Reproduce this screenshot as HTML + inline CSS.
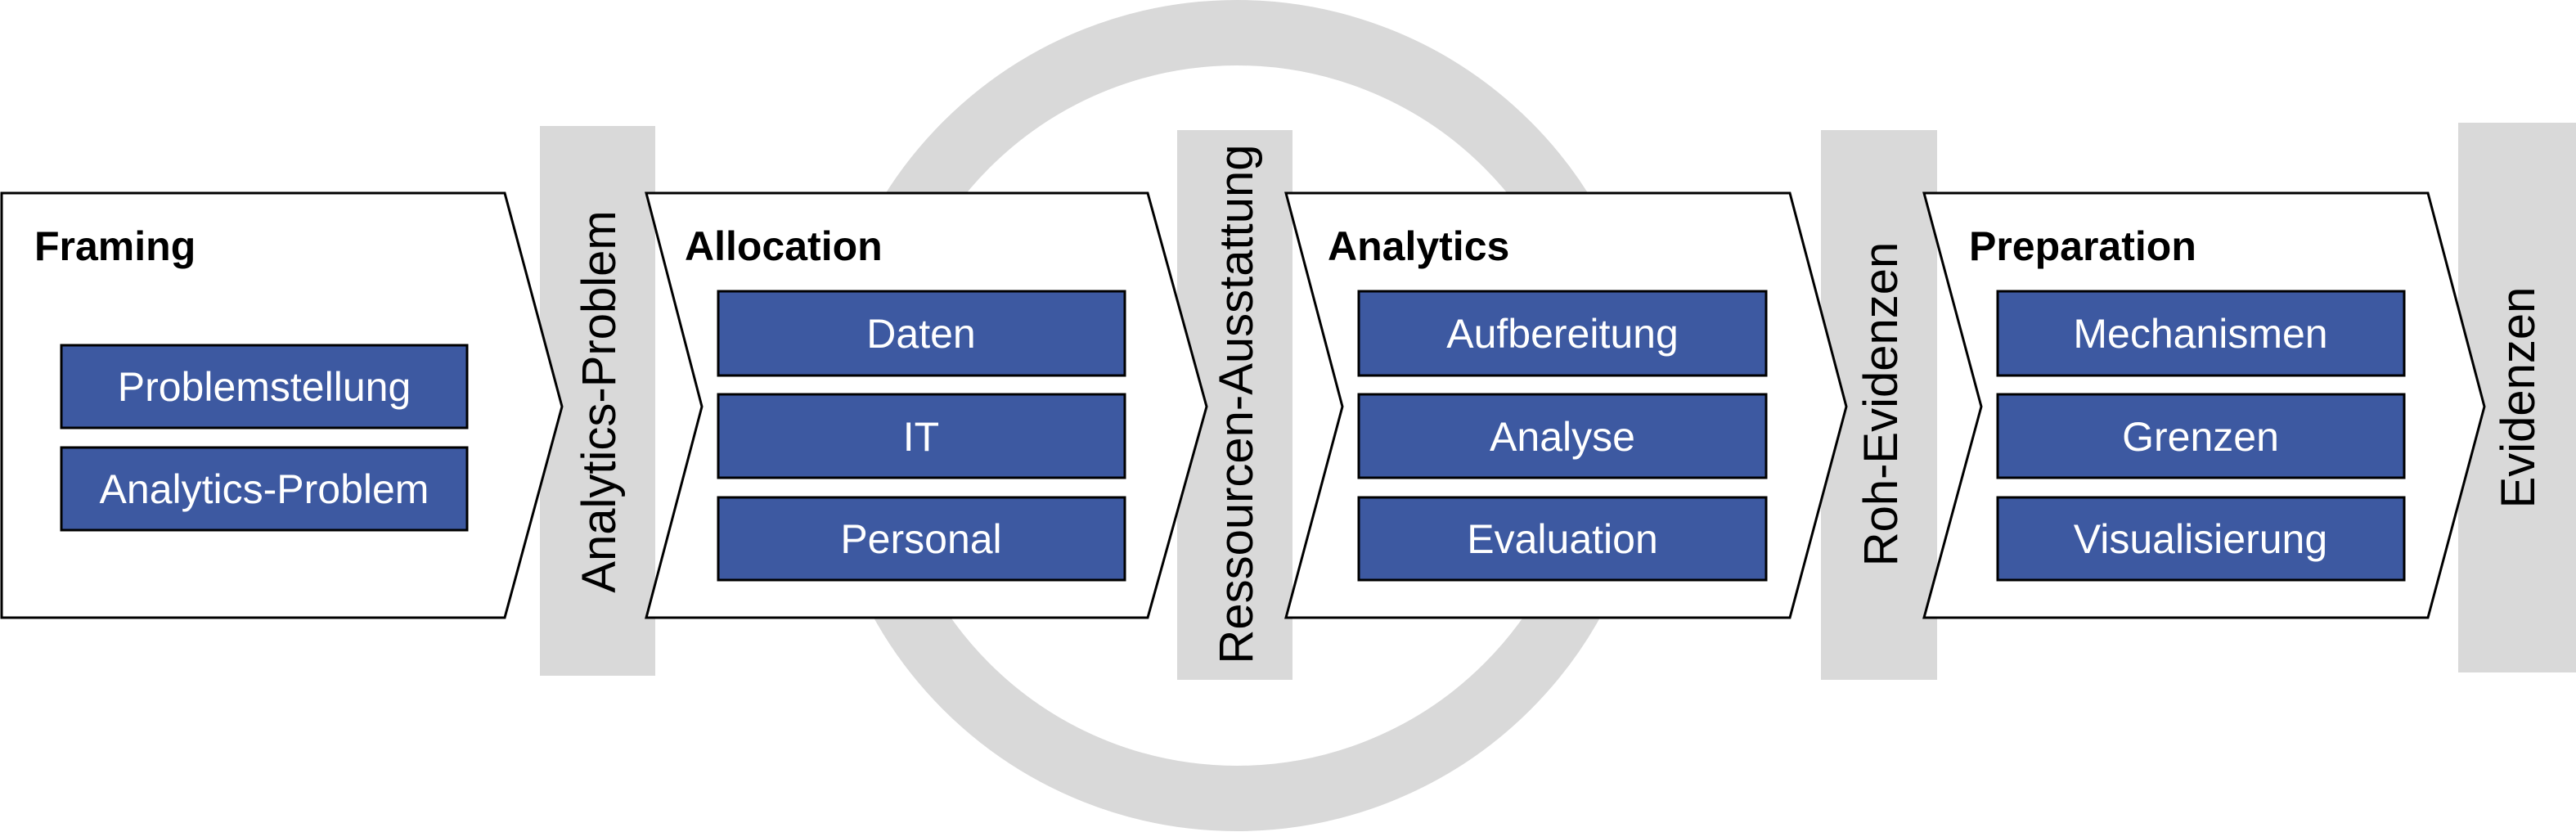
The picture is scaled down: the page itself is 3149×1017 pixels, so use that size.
<!DOCTYPE html>
<html><head><meta charset="utf-8"><style>html,body{margin:0;padding:0;background:#fff}svg{display:block}</style></head>
<body>
<svg width="3149" height="1017" viewBox="0 0 3149 1017" xmlns="http://www.w3.org/2000/svg" font-family="Liberation Sans, Arial, sans-serif">
<circle cx="1512" cy="508" r="468" fill="none" stroke="#d9d9d9" stroke-width="80"/>
<g fill="#d9d9d9">
<rect x="660" y="154" width="141" height="672"/>
<rect x="1439" y="159" width="141" height="672"/>
<rect x="2226" y="159" width="142" height="672"/>
<rect x="3005" y="150" width="144" height="672"/>
</g>
<g fill="#fff" stroke="#000" stroke-width="3">
<polygon points="2,236 617,236 687,497 617,755 2,755"/>
<polygon points="790,236 1403,236 1475,497 1403,755 790,755 858,497"/>
<polygon points="1572,236 2188,236 2257,497 2188,755 1572,755 1641,497"/>
<polygon points="2352,236 2968,236 3037,497 2968,755 2352,755 2422,497"/>
</g>
<g font-weight="bold" font-size="50" fill="#000">
<text x="42" y="318">Framing</text>
<text x="837" y="318">Allocation</text>
<text x="1623" y="318">Analytics</text>
<text x="2407" y="318">Preparation</text>
</g>
<g fill="#3d59a1" stroke="#000" stroke-width="3">
<rect x="75" y="422" width="496" height="101"/>
<rect x="75" y="547" width="496" height="101"/>
<rect x="878" y="356" width="497" height="103"/>
<rect x="878" y="482" width="497" height="102"/>
<rect x="878" y="608" width="497" height="101"/>
<rect x="1661" y="356" width="498" height="103"/>
<rect x="1661" y="482" width="498" height="102"/>
<rect x="1661" y="608" width="498" height="101"/>
<rect x="2442" y="356" width="497" height="103"/>
<rect x="2442" y="482" width="497" height="102"/>
<rect x="2442" y="608" width="497" height="101"/>
</g>
<g fill="#fff" font-size="50" text-anchor="middle">
<text x="323" y="490">Problemstellung</text>
<text x="323" y="615">Analytics-Problem</text>
<text x="1126" y="425">Daten</text>
<text x="1126" y="551">IT</text>
<text x="1126" y="676">Personal</text>
<text x="1910" y="425">Aufbereitung</text>
<text x="1910" y="551">Analyse</text>
<text x="1910" y="676">Evaluation</text>
<text x="2690" y="425">Mechanismen</text>
<text x="2690" y="551">Grenzen</text>
<text x="2690" y="676">Visualisierung</text>
</g>
<g fill="#000" font-size="58" text-anchor="middle">
<text transform="translate(752,491) rotate(-90)">Analytics-Problem</text>
<text transform="translate(1531,494) rotate(-90)">Ressourcen-Ausstattung</text>
<text transform="translate(2319,494) rotate(-90)">Roh-Evidenzen</text>
<text transform="translate(3098,486) rotate(-90)">Evidenzen</text>
</g>
</svg>
</body></html>
